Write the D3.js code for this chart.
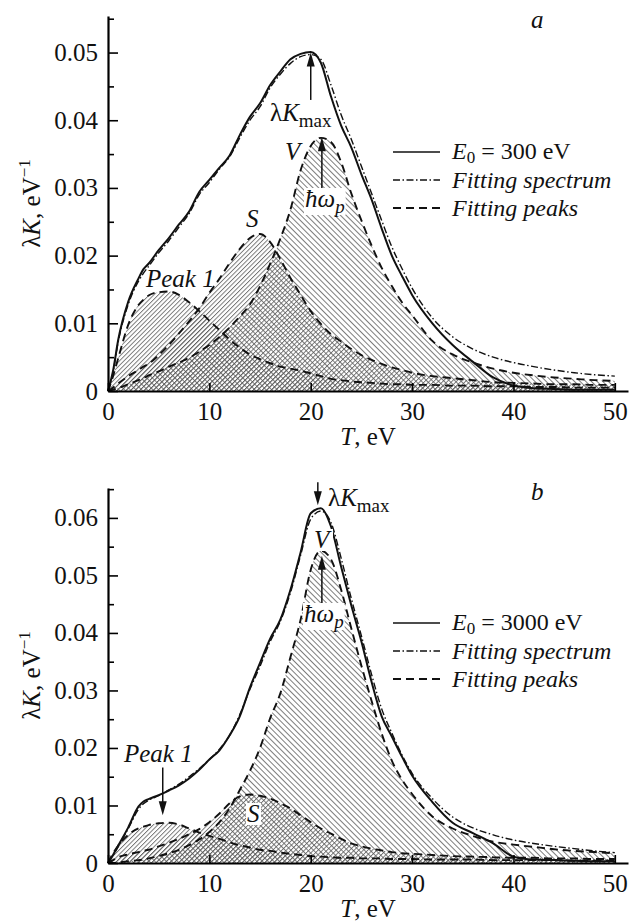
<!DOCTYPE html>
<html>
<head>
<meta charset="utf-8">
<script src="https://cdn.jsdelivr.net/npm/d3@7"></script>
<style>
  body { margin: 0; background: #fff; }
  #chart text { fill: #111; font-family: "Times New Roman", Times, Tinos, "Liberation Serif", "Noto Serif", "DejaVu Serif", FreeSerif, serif; }
</style>
</head>
<body>
<svg id="chart" width="639" height="924"></svg>
<script>
// energy loss grid, eV
var tGrid = [0, 0.5, 1, 2, 3, 3.5, 4, 5, 6, 7, 8, 9, 10, 11, 12, 13, 14, 15, 16, 17, 18, 19, 20,
  21, 22, 23, 24, 25, 26, 27, 28, 29, 30, 32, 34, 36, 38, 40, 42, 44, 46, 48, 50];

// panel a, E0 = 300 eV
var topMeasured = [0, 0.0030, 0.0075, 0.0132, 0.0166, 0.0180, 0.0188, 0.0208, 0.0226, 0.0246, 0.0265, 0.0294,
  0.0312, 0.0330, 0.0348, 0.0378, 0.0405, 0.0425, 0.0452, 0.0472, 0.0490, 0.0498, 0.0501, 0.0485, 0.0435,
  0.0392, 0.0360, 0.0320, 0.0283, 0.0240, 0.0200, 0.0170, 0.0142, 0.0100, 0.0068, 0.0043, 0.0020, 0.0008,
  0.0004, 0.0003, 0.0002, 0.0002, 0.0002];
var topFit = [0, 0.0028, 0.0072, 0.0128, 0.0162, 0.0174, 0.0184, 0.0204, 0.0222, 0.0242, 0.0262, 0.0290,
  0.0308, 0.0328, 0.0346, 0.0374, 0.0400, 0.0420, 0.0448, 0.0468, 0.0484, 0.0494, 0.0497, 0.0490, 0.0452,
  0.0408, 0.0372, 0.0332, 0.0292, 0.0252, 0.0213, 0.0181, 0.0152, 0.0108, 0.0080, 0.0062, 0.0050, 0.0042,
  0.0036, 0.0031, 0.0027, 0.0024, 0.0022];
var topPeak1 = [0, 0.0022, 0.0048, 0.0098, 0.0127, 0.0135, 0.0141, 0.0146, 0.0147, 0.0142, 0.0131, 0.0118,
  0.0104, 0.0090, 0.0076, 0.0064, 0.0054, 0.0047, 0.0041, 0.0036, 0.0033, 0.0030, 0.0026, 0.0022, 0.0018,
  0.0016, 0.0014, 0.0013, 0.0012, 0.0011, 0.0010, 0.0010, 0.0009, 0.0009, 0.0008, 0.0008, 0.0007, 0.0007,
  0.0006, 0.0006, 0.0005, 0.0005, 0.0005];
var topS = [0, 0.0005, 0.0011, 0.0022, 0.0031, 0.0036, 0.0040, 0.0053, 0.0068, 0.0085, 0.0103, 0.0122,
  0.0145, 0.0166, 0.0189, 0.0210, 0.0226, 0.0232, 0.0220, 0.0195, 0.0167, 0.0142, 0.0118, 0.0099, 0.0084,
  0.0073, 0.0062, 0.0053, 0.0046, 0.0040, 0.0035, 0.0031, 0.0027, 0.0022, 0.0019, 0.0016, 0.0013, 0.0012,
  0.0011, 0.0010, 0.0010, 0.0009, 0.0009];
var topV = [0, 0.0002, 0.0004, 0.0010, 0.0016, 0.0019, 0.0023, 0.0029, 0.0036, 0.0042, 0.0049, 0.0058,
  0.0068, 0.0080, 0.0094, 0.0110, 0.0128, 0.0155, 0.0188, 0.0225, 0.0268, 0.0326, 0.0362, 0.0374, 0.0368,
  0.0338, 0.0292, 0.0252, 0.0215, 0.0182, 0.0155, 0.0131, 0.0112, 0.0074, 0.0054, 0.0042, 0.0033, 0.0027,
  0.0023, 0.0020, 0.0018, 0.0016, 0.0015];

// panel b, E0 = 3000 eV
var botMeasured = [0, 0.0014, 0.0030, 0.0062, 0.0098, 0.0107, 0.0111, 0.0118, 0.0126, 0.0135, 0.0147, 0.0162,
  0.0180, 0.0196, 0.0222, 0.0255, 0.0305, 0.0348, 0.0390, 0.0423, 0.0475, 0.0540, 0.0608, 0.0617, 0.0585,
  0.0515, 0.0448, 0.0385, 0.0315, 0.0255, 0.0220, 0.0185, 0.0152, 0.0106, 0.0070, 0.0052, 0.0034, 0.0011,
  0.0006, 0.0005, 0.0004, 0.0003, 0.0003];
var botFit = [0, 0.0013, 0.0028, 0.0060, 0.0093, 0.0103, 0.0109, 0.0117, 0.0127, 0.0137, 0.0150, 0.0164,
  0.0180, 0.0198, 0.0222, 0.0258, 0.0302, 0.0342, 0.0385, 0.0420, 0.0470, 0.0535, 0.0598, 0.0612, 0.0592,
  0.0530, 0.0460, 0.0395, 0.0328, 0.0268, 0.0226, 0.0188, 0.0156, 0.0112, 0.0080, 0.0061, 0.0049, 0.0040,
  0.0034, 0.0029, 0.0025, 0.0021, 0.0018];
var botPeak1 = [0, 0.0017, 0.0030, 0.0049, 0.0060, 0.0063, 0.0066, 0.0069, 0.0070, 0.0067, 0.0060, 0.0053,
  0.0047, 0.0042, 0.0036, 0.0031, 0.0027, 0.0023, 0.0021, 0.0018, 0.0016, 0.0014, 0.0012, 0.0011, 0.0010,
  0.0009, 0.0009, 0.0008, 0.0008, 0.0008, 0.0007, 0.0007, 0.0007, 0.0006, 0.0006, 0.0006, 0.0005, 0.0005,
  0.0005, 0.0005, 0.0004, 0.0004, 0.0004];
var botS = [0, 0.0005, 0.0010, 0.0015, 0.0019, 0.0021, 0.0023, 0.0029, 0.0035, 0.0042, 0.0050, 0.0059,
  0.0071, 0.0086, 0.0104, 0.0116, 0.0119, 0.0117, 0.0112, 0.0104, 0.0095, 0.0083, 0.0071, 0.0060, 0.0051,
  0.0042, 0.0034, 0.0029, 0.0025, 0.0022, 0.0019, 0.0017, 0.0016, 0.0014, 0.0012, 0.0011, 0.0010, 0.0009,
  0.0009, 0.0008, 0.0008, 0.0007, 0.0007];
var botV = [0, 0.0000, 0.0001, 0.0003, 0.0005, 0.0006, 0.0008, 0.0012, 0.0017, 0.0023, 0.0031, 0.0041,
  0.0054, 0.0071, 0.0095, 0.0127, 0.0160, 0.0200, 0.0252, 0.0295, 0.0358, 0.0423, 0.0510, 0.0543, 0.0528,
  0.0475, 0.0408, 0.0343, 0.0282, 0.0225, 0.0178, 0.0145, 0.0120, 0.0081, 0.0060, 0.0047, 0.0037, 0.0032,
  0.0028, 0.0024, 0.0021, 0.0019, 0.0017];

var xTicks = [0, 10, 20, 30, 40, 50];
var topYMajor = [0, 0.01, 0.02, 0.03, 0.04, 0.05];
var topYMinor = [0.005, 0.015, 0.025, 0.035, 0.045, 0.055];
var botYMajor = [0, 0.01, 0.02, 0.03, 0.04, 0.05, 0.06];
var botYMinor = [0.005, 0.015, 0.025, 0.035, 0.045, 0.055, 0.065];

var svg = d3.select("#chart");
var x = d3.scaleLinear().domain([0, 51.3]).range([108, 628]);

// hatch patterns: "/" for peak 1 and S, "\" for V
var defs = svg.append("defs");
function hatch(id, angle, step) {
  var p = defs.append("pattern").attr("id", id)
    .attr("patternUnits", "userSpaceOnUse")
    .attr("width", step).attr("height", step)
    .attr("patternTransform", "rotate(" + angle + ")");
  p.append("line").attr("x1", 0.5).attr("y1", 0).attr("x2", 0.5).attr("y2", step)
    .attr("stroke", "#5c5c5c").attr("stroke-width", 0.8);
}
hatch("hatchFwd", 45, 3.2);
hatch("hatchBack", -45, 4);

var DASH = "8,5";
var DASHDOT = "7,2.5,1.5,2.5";

function richText(g, px, py, parts, size) {
  var t = g.append("text").attr("x", px).attr("y", py).attr("font-size", size || 25);
  parts.forEach(function(p) {
    var s = t.append("tspan").text(p.t);
    if (p.i) s.attr("font-style", "italic");
    if (p.dy) s.attr("dy", p.dy);
    if (p.fs) s.attr("font-size", p.fs);
  });
  return t;
}
function whiteBehind(g, t) {
  var bb = t.node().getBBox();
  g.insert("rect", function() { return t.node(); })
    .attr("x", bb.x - 1).attr("y", bb.y + 3).attr("width", bb.width + 2).attr("height", bb.height - 5)
    .attr("fill", "#fff");
}
function arrow(g, px, yFrom, yTip) {
  var dir = yTip < yFrom ? 1 : -1;
  g.append("line").attr("x1", px).attr("x2", px).attr("y1", yFrom).attr("y2", yTip + dir * 10)
    .attr("stroke", "#111").attr("stroke-width", 1.5);
  g.append("path")
    .attr("d", "M" + px + "," + yTip + "L" + (px - 4) + "," + (yTip + dir * 14) +
      "L" + (px + 4) + "," + (yTip + dir * 14) + "Z")
    .attr("fill", "#111");
}

var panels = [
  { letter: "a", top: 16, bottom: 391, yMax: 0.0554, yMajor: topYMajor, yMinor: topYMinor,
    measured: topMeasured, fit: topFit, peak1: topPeak1, s: topS, v: topV, e0: " = 300 eV" },
  { letter: "b", top: 488, bottom: 863, yMax: 0.0652, yMajor: botYMajor, yMinor: botYMinor,
    measured: botMeasured, fit: botFit, peak1: botPeak1, s: botS, v: botV, e0: " = 3000 eV" }
];

panels.forEach(function(p, k) {
  var y = d3.scaleLinear().domain([0, p.yMax]).range([p.bottom, p.top]);
  var g = svg.append("g");

  var area = d3.area().x(function(d, i) { return x(tGrid[i]); })
    .y0(y(0)).y1(function(d) { return y(d); }).curve(d3.curveMonotoneX);
  var line = d3.line().x(function(d, i) { return x(tGrid[i]); })
    .y(function(d) { return y(d); }).curve(d3.curveMonotoneX);

  g.append("path").datum(p.v).attr("d", area).attr("fill", "url(#hatchBack)");
  g.append("path").datum(p.s).attr("d", area).attr("fill", "url(#hatchFwd)");
  g.append("path").datum(p.peak1).attr("d", area).attr("fill", "url(#hatchFwd)");

  [p.peak1, p.s, p.v].forEach(function(arr) {
    g.append("path").datum(arr).attr("d", line).attr("fill", "none")
      .attr("stroke", "#111").attr("stroke-width", 1.9).attr("stroke-dasharray", DASH);
  });
  g.append("path").datum(p.fit).attr("d", line).attr("fill", "none")
    .attr("stroke", "#111").attr("stroke-width", 1.4).attr("stroke-dasharray", DASHDOT);
  g.append("path").datum(p.measured).attr("d", line).attr("fill", "none")
    .attr("stroke", "#111").attr("stroke-width", 2);

  // axes, ticks pointing inward
  var yAx = g.append("g").attr("transform", "translate(" + x(0) + ",0)")
    .call(d3.axisLeft(y).tickValues(p.yMajor).tickSize(-10).tickSizeOuter(0).tickPadding(10)
      .tickFormat(function(d) { return d === 0 ? "0" : d3.format(".2f")(d); }));
  var yMin = g.append("g").attr("transform", "translate(" + x(0) + ",0)")
    .call(d3.axisLeft(y).tickValues(p.yMinor).tickSize(-6).tickSizeOuter(0).tickFormat(""));
  yMin.select(".domain").remove();
  var xAx = g.append("g").attr("transform", "translate(0," + y(0) + ")")
    .call(d3.axisBottom(x).tickValues(xTicks).tickSize(-8).tickSizeOuter(0).tickPadding(11));
  [yAx, yMin, xAx].forEach(function(a) {
    a.attr("font-family", null).attr("font-size", 25);
    a.select(".domain").attr("stroke-width", 2.2);
    a.selectAll(".tick line").attr("stroke-width", 1.6);
    a.selectAll("text").attr("fill", "#111");
  });

  // axis titles
  richText(g, 0, 0, [{ t: "λ" }, { t: "K", i: 1 }, { t: ", eV" }, { t: "−1", dy: -10, fs: 17 }])
    .attr("text-anchor", "middle")
    .attr("transform", "translate(40," + (p.top + p.bottom) / 2 + ") rotate(-90)");
  richText(g, 368, p.bottom + 54, [{ t: "T", i: 1 }, { t: ", eV" }]).attr("text-anchor", "middle");
  richText(g, 531, p.top + 12, [{ t: p.letter, i: 1 }]);

  // legend
  var rows = k === 0 ? [152, 180, 208] : [623, 651, 679];
  var styles = [null, DASHDOT, DASH];
  var widths = [1.6, 1.4, 1.9];
  rows.forEach(function(ry, j) {
    g.append("line").attr("x1", 393).attr("x2", 440).attr("y1", ry).attr("y2", ry)
      .attr("stroke", "#111").attr("stroke-width", widths[j])
      .attr("stroke-dasharray", styles[j]);
  });
  richText(g, 452, rows[0] + 7, [{ t: "E", i: 1 }, { t: "0", dy: 4, fs: 17 }, { t: p.e0, dy: -4 }], 24);
  richText(g, 452, rows[1] + 8, [{ t: "Fitting spectrum", i: 1 }], 24);
  richText(g, 452, rows[2] + 8, [{ t: "Fitting peaks", i: 1 }], 24);

  // annotations
  if (k === 0) {
    arrow(g, x(20), y(0.0430), y(0.0500));
    richText(g, 270, 121, [{ t: "λ" }, { t: "K", i: 1 }, { t: "max", dy: 6, fs: 19 }]);
    arrow(g, x(21.1), y(0.0300), y(0.0375));
    var hw = richText(g, 305, 207, [{ t: "ħω", i: 1 }, { t: "p", i: 1, dy: 6, fs: 19 }]);
    whiteBehind(g, hw);
    richText(g, 285, 160, [{ t: "V", i: 1 }]);
    richText(g, 246, 227, [{ t: "S", i: 1 }]);
    richText(g, 146, 287, [{ t: "Peak 1", i: 1 }]);
  } else {
    arrow(g, x(20.7), y(0.0662), y(0.0622));
    richText(g, 328, 506, [{ t: "λ" }, { t: "K", i: 1 }, { t: "max", dy: 6, fs: 19 }]);
    arrow(g, x(21.1), y(0.0442), y(0.0534));
    var hw2 = richText(g, 304, 622, [{ t: "ħω", i: 1 }, { t: "p", i: 1, dy: 6, fs: 19 }]);
    whiteBehind(g, hw2);
    var vl = richText(g, 314, 548, [{ t: "V", i: 1 }]);
    whiteBehind(g, vl);
    var sl = richText(g, 247, 822, [{ t: "S", i: 1 }]);
    whiteBehind(g, sl);
    richText(g, 124, 762, [{ t: "Peak 1", i: 1 }]);
    arrow(g, x(5.4), y(0.0166), y(0.0083));
  }
});
</script>
</body>
</html>
